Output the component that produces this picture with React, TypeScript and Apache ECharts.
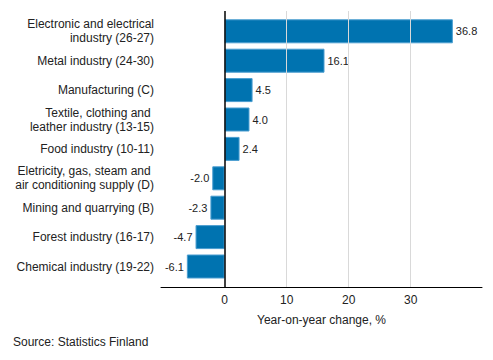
import React, { useEffect, useRef } from "react";
import * as echarts from "echarts";

const categories = [
  "Electronic and electrical\nindustry (26-27)",
  "Metal industry (24-30)",
  "Manufacturing (C)",
  "Textile, clothing and \nleather industry (13-15)",
  "Food industry (10-11)",
  "Eletricity, gas, steam and \nair conditioning supply (D)",
  "Mining and quarrying (B)",
  "Forest industry (16-17)",
  "Chemical industry (19-22)",
];
const values = [36.8, 16.1, 4.5, 4.0, 2.4, -2.0, -2.3, -4.7, -6.1];
const tickLabels = [0, 10, 20, 30];
const gridValues = [10, 20, 30];
const axisTitle = "Year-on-year change, %";
const sourceText = "Source: Statistics Finland";

const FONT = "'Liberation Sans', Arial, sans-serif";
const X_MIN = -10.27;
const X_MAX = 41.5;

export default function App() {
  const ref = useRef<HTMLDivElement>(null);
  useEffect(() => {
    if (!ref.current) return;
    const chart = echarts.init(ref.current, null, { renderer: "svg" });
    chart.setOption({
      animation: false,
      backgroundColor: "#ffffff",
      textStyle: { fontFamily: FONT },
      grid: [
        { left: 161, right: 11, top: 11, bottom: 73, containLabel: false },
        { left: 161, right: 11, top: 16.6, bottom: 78.8, containLabel: false },
      ],
      xAxis: [
        {
          gridIndex: 0,
          type: "value",
          min: X_MIN,
          max: X_MAX,
          axisLine: { show: true, onZero: false, lineStyle: { color: "#000000", width: 1 } },
          axisTick: { show: false },
          splitLine: { show: false },
          axisLabel: {
            color: "#222",
            fontSize: 12,
            fontFamily: FONT,
            margin: 7,
            showMinLabel: true,
            showMaxLabel: true,
            formatter: (v: number) => (tickLabels.includes(Math.round(v * 100) / 100) ? String(v) : ""),
          },
          name: axisTitle,
          nameLocation: "middle",
          nameGap: 27,
          nameTextStyle: { color: "#222", fontSize: 12, fontFamily: FONT },
        },
        {
          gridIndex: 1,
          type: "value",
          min: X_MIN,
          max: X_MAX,
          show: false,
          splitLine: { show: false },
        },
      ],
      yAxis: [
        {
          gridIndex: 0,
          type: "value",
          min: 0,
          max: 1,
          show: false,
          splitLine: { show: false },
        },
        {
          gridIndex: 1,
          type: "category",
          data: categories,
          inverse: true,
          axisLine: { show: false },
          axisTick: { show: false },
          axisLabel: {
            color: "#222",
            fontSize: 12,
            fontFamily: FONT,
            lineHeight: 14,
            margin: 7,
            align: "right",
          },
        },
      ],
      series: [
        {
          type: "line",
          xAxisIndex: 0,
          yAxisIndex: 0,
          data: [],
          z: 1,
          markLine: {
            silent: true,
            symbol: "none",
            label: { show: false },
            data: gridValues.map((g) => ({ xAxis: g })),
            lineStyle: { color: "#d9d9d9", width: 1, type: "solid" },
          },
        },
        {
          type: "bar",
          xAxisIndex: 1,
          yAxisIndex: 1,
          barWidth: 24,
          z: 3,
          data: values.map((v) => ({
            value: v,
            label: { position: v >= 0 ? "right" : "left" },
          })),
          itemStyle: { color: "#0073B0", borderColor: "#4a9dd0", borderWidth: 1 },
          label: {
            show: true,
            color: "#222",
            fontSize: 11,
            fontFamily: FONT,
            distance: 3,
            formatter: (p: any) => Number(p.value).toFixed(1),
          },
        },
        {
          type: "line",
          xAxisIndex: 0,
          yAxisIndex: 0,
          data: [],
          z: 5,
          markLine: {
            silent: true,
            symbol: "none",
            label: { show: false },
            data: [{ xAxis: 0 }],
            lineStyle: { color: "#000000", width: 1.5, type: "solid" },
          },
        },
      ],
      graphic: [
        {
          type: "text",
          left: 13,
          top: 336,
          style: { text: sourceText, fill: "#222", fontSize: 12, fontFamily: FONT },
        },
      ],
    });
    return () => chart.dispose();
  }, []);
  return (
    <div
      ref={ref}
      style={{ position: "absolute", left: 0, top: 0, width: 493, height: 360 }}
    />
  );
}
